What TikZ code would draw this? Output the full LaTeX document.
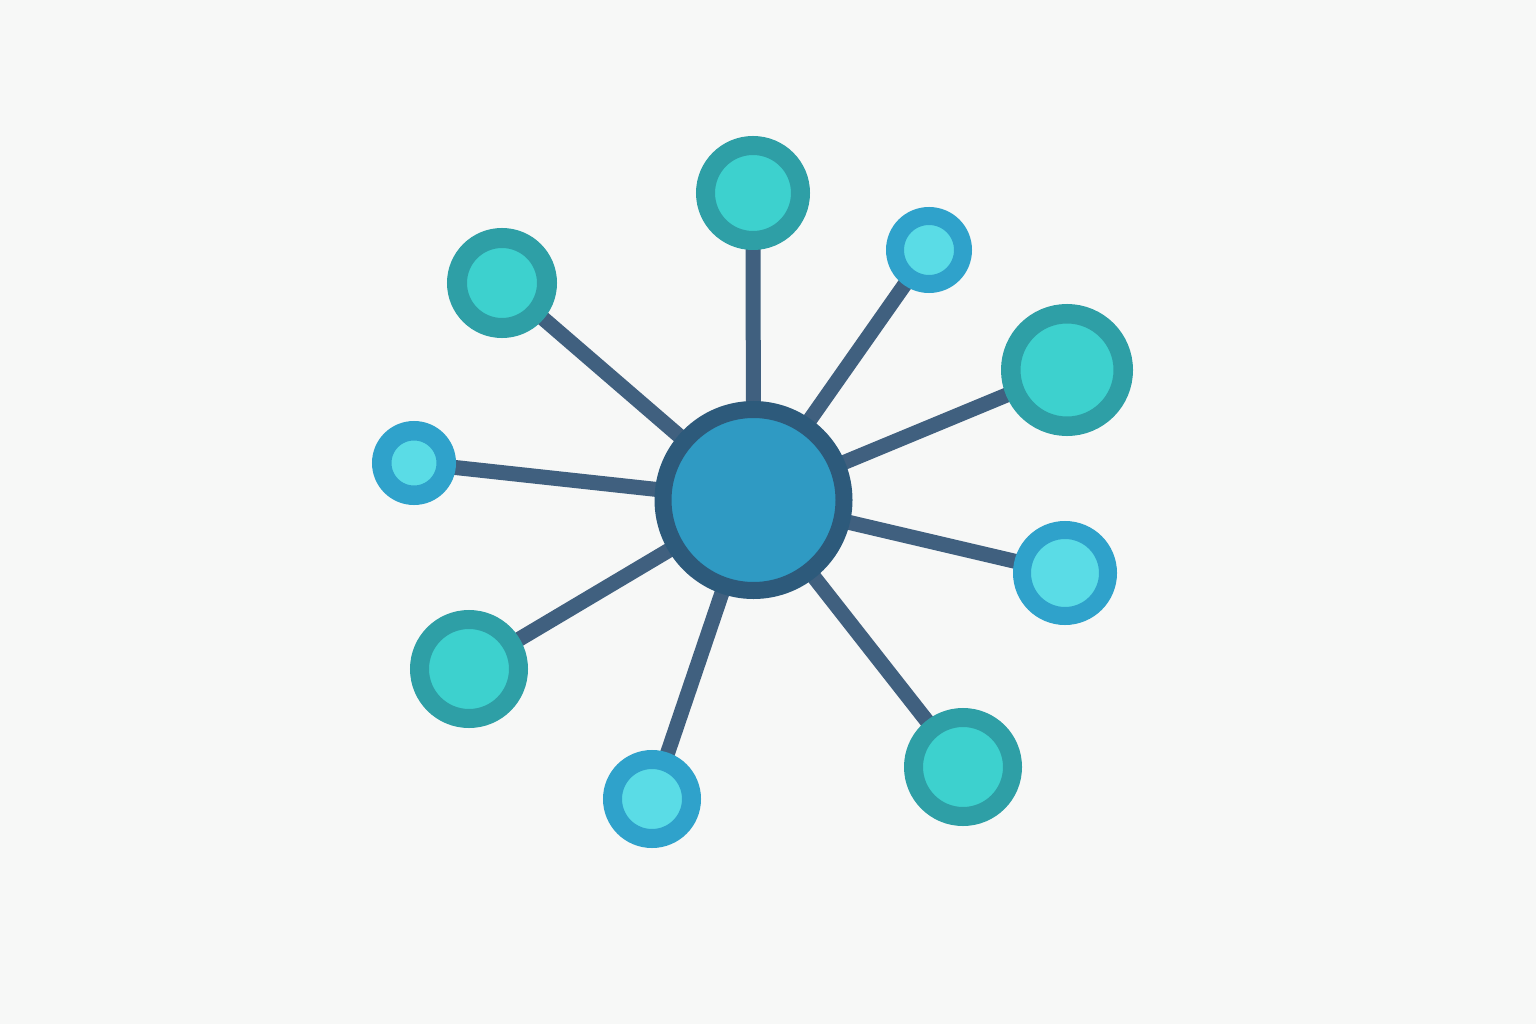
\documentclass[tikz,border=0pt]{standalone}
\definecolor{bgc}{HTML}{F7F8F7}
\definecolor{hubfill}{HTML}{2F9AC3}
\definecolor{hubring}{HTML}{2D5A7B}
\definecolor{tealring}{HTML}{2E9FA6}
\definecolor{tealfill}{HTML}{3DD1CE}
\definecolor{bluering}{HTML}{2FA2CB}
\definecolor{bluefill}{HTML}{5ADCE6}
\definecolor{spoke}{HTML}{40607F}
\pgfdeclarelayer{bg}
\pgfdeclarelayer{edges}
\pgfsetlayers{bg,edges,main}
\tikzset{
  ringnode/.style n args={4}{circle, inner sep=0pt, outer sep=0pt, fill=#1, draw=#2,
     line width={(#3)-(#4)}, minimum size={(#3)+(#4)}},
  tealnode/.style 2 args={ringnode={tealfill}{tealring}{#1}{#2}},
  bluenode/.style 2 args={ringnode={bluefill}{bluering}{#1}{#2}},
  spokeline/.style={draw=spoke, line width=15pt}
}
\begin{document}
\begin{tikzpicture}[x=1pt,y=-1pt]
\begin{pgfonlayer}{bg}
\fill[bgc] (0,0) rectangle (1536,1024);
\end{pgfonlayer}
\useasboundingbox (0,0) rectangle (1536,1024);
\node[ringnode={hubfill}{hubring}{99}{82}] (hub) at (753.5,500) {};
\node[tealnode={57}{38}] (n1) at (753,193) {};
\node[tealnode={55}{35}] (n2) at (502,283) {};
\node[bluenode={43}{25}] (n3) at (929,250) {};
\node[tealnode={66}{46.5}] (n4) at (1067,370) {};
\node[bluenode={42}{22.5}] (n5) at (414,463) {};
\node[bluenode={52}{34}] (n6) at (1065,573) {};
\node[tealnode={59}{40}] (n7) at (469,669) {};
\node[bluenode={49}{30}] (n8) at (652,799) {};
\node[tealnode={59}{40}] (n9) at (963,767) {};
\begin{pgfonlayer}{edges}
\foreach \n in {n1,n2,n3,n4,n5,n6,n7,n8,n9}
  \draw[spokeline] (hub.center) -- (\n.center);
\end{pgfonlayer}
\end{tikzpicture}
\end{document}
